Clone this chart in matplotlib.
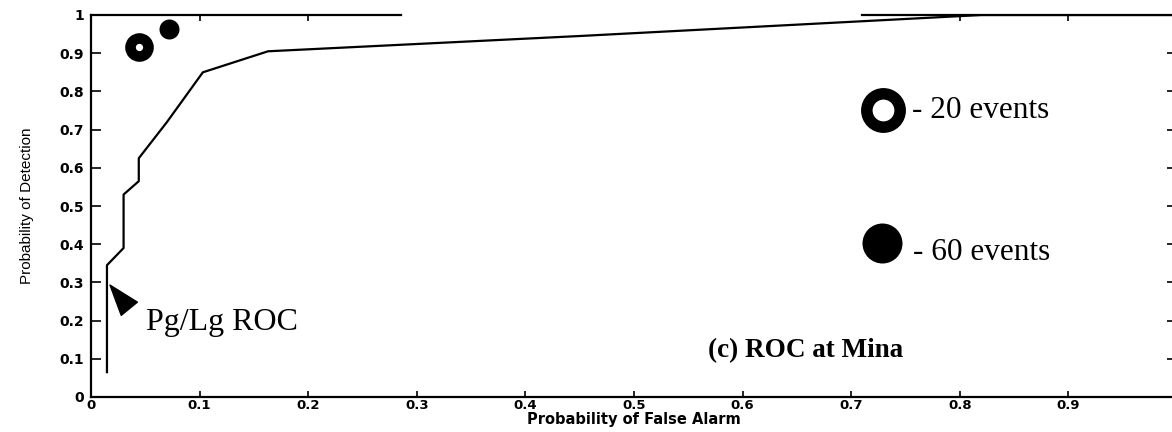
import matplotlib
matplotlib.use("Agg")
import matplotlib.pyplot as plt

# ROC curve
pfa = [0.0147, 0.0147, 0.030, 0.030, 0.044, 0.044, 0.070, 0.103, 0.163, 0.45, 0.82, 1.0]
pd_ = [0.065, 0.345, 0.39, 0.53, 0.565, 0.625, 0.72, 0.85, 0.905, 0.945, 1.0, 1.0]

# single points
open_pt = (0.044, 0.916)    # 20 events
filled_pt = (0.072, 0.963)  # 60 events

ticks = [0, 0.1, 0.2, 0.3, 0.4, 0.5, 0.6, 0.7, 0.8, 0.9, 1]
tick_labels = ["0", "0.1", "0.2", "0.3", "0.4", "0.5", "0.6", "0.7", "0.8", "0.9", "1"]

fig = plt.figure(figsize=(11.72, 4.32), dpi=100)
ax = fig.add_axes([91 / 1172, 35 / 432, 1086 / 1172, 382 / 432])

ax.plot(pfa, pd_, color="black", lw=1.6)
ax.plot(*open_pt, "o", ms=13, mfc="white", mec="black", mew=7.6, clip_on=False)
ax.plot(*filled_pt, "o", ms=14.4, mfc="black", mec="black", mew=0, clip_on=False)

# legend-like markers drawn on the chart
ax.plot(0.729, 0.752, "o", ms=24, mfc="white", mec="black", mew=8.3)
ax.plot(0.728, 0.403, "o", ms=28.8, mfc="black", mec="black", mew=0)
serif = "Liberation Serif"
ax.text(0.756, 0.73, "- 20 events", fontsize=22.5, family=serif, va="baseline")
ax.text(0.757, 0.359, "- 60 events", fontsize=22.5, family=serif, va="baseline")
ax.text(0.051, 0.175, "Pg/Lg ROC", fontsize=23, family=serif, va="baseline")
ax.text(0.568, 0.105, "(c) ROC at Mina", fontsize=19.5, family=serif,
        fontweight="bold", va="baseline")

ax.annotate("", xy=(0.0175, 0.293), xytext=(0.035, 0.232),
            arrowprops=dict(facecolor="black", edgecolor="black",
                            width=1.5, headwidth=15, headlength=22, shrink=0))

ax.set_xlim(0, 1)
ax.set_ylim(0, 1)
ax.set_xticks(ticks)
ax.set_yticks(ticks)
ax.set_xticklabels(tick_labels, fontsize=9.5, fontweight="bold")
ax.set_yticklabels(tick_labels, fontsize=10, fontweight="bold")
ax.tick_params(axis="x", direction="in", length=4, width=1.2, top=True, pad=1.5)
ax.tick_params(axis="y", direction="in", length=7, width=1.2, right=True, pad=5)

for s in ["left", "bottom", "right"]:
    ax.spines[s].set_linewidth(1.6)
ax.spines["top"].set_visible(False)
# the top border is broken in the scan
ax.plot([0, 0.285], [1, 1], color="black", lw=1.6, transform=ax.transAxes, clip_on=False)
ax.plot([0.71, 1], [1, 1], color="black", lw=1.6, transform=ax.transAxes, clip_on=False)
for t in ax.xaxis.get_major_ticks()[3:8]:
    t.tick2line.set_visible(False)

ax.set_xlabel("Probability of False Alarm", fontsize=10.5, fontweight="bold", labelpad=0)
ax.set_ylabel("Probability of Detection", fontsize=11,
              family="Liberation Sans", labelpad=18)

fig.savefig("out.png", dpi=100)
